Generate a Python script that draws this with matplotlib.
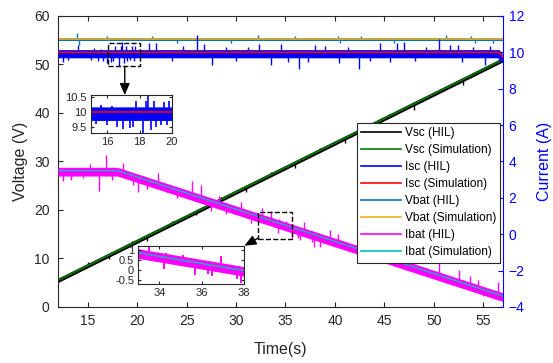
import matplotlib.pyplot as plt
from matplotlib.lines import Line2D
from matplotlib.patches import Rectangle
import numpy as np

plt.rcParams['font.family'] = ['Liberation Sans', 'DejaVu Sans']

# simulation traces (breakpoints)
t_vsc = [12, 57]
vsc_sim = [5.5, 51.0]
t_vbat = [12, 57]
vbat_sim = [55.2, 55.2]
t_isc = [12, 56.6, 57]
isc_sim = [10.0, 10.0, 9.7]
t_ibat = [12, 18, 57]
ibat_sim = [3.5, 3.5, -3.4]

# HIL noise band (above, below the simulation trace)
vsc_band = (0.45, 0.45)
vbat_band = (0.35, 0.45)
isc_band = (0.15, 0.3)
ibat_band = (0.18, 0.3)

# HIL spikes: time and peak value
vsc_spk_t = [15.0, 17.2, 19.5, 21.0, 23.5, 26.0, 28.5, 31.0, 33.5, 36.0, 38.5, 41.0, 45.5, 48.0, 50.5, 53.0, 55.5]
vsc_spk_v = [9.3, 9.9, 13.7, 13.7, 17.8, 18.9, 22.7, 23.8, 27.8, 28.7, 32.8, 33.8, 39.8, 40.7, 44.8, 45.7, 49.7]
vbat_spk_t = [13.9, 14.1, 17.0, 21.5, 24.0, 29.5, 32.2, 36.0, 40.3, 40.5, 42.6, 46.0, 51.2, 53.8, 54.2, 56.0]
vbat_spk_v = [56.4, 54.0, 55.9, 55.9, 54.5, 54.4, 56.1, 55.9, 55.9, 54.4, 55.9, 54.5, 56.0, 55.9, 54.4, 54.5]
isc_spk_t = [12.5, 13.0, 14.0, 15.3, 15.6, 16.0, 16.3, 16.6, 17.0, 17.4, 17.6, 17.8, 18.2, 18.4, 18.5, 18.7,
             18.9, 19.0, 19.3, 19.5, 19.7, 19.8, 21.2, 21.9, 23.5, 24.6, 26.1, 26.8, 27.6, 29.0, 30.0, 31.2,
             32.3, 33.5, 34.6, 35.3, 36.4, 37.3, 38.0, 39.0, 40.4, 41.3, 42.4, 43.5, 44.6, 45.6, 46.3, 47.0,
             48.1, 49.2, 50.5, 51.6, 52.4, 52.9, 54.0, 55.2, 55.7, 56.6]
isc_spk_v = [9.46, 9.57, 10.4, 9.6, 10.22, 9.55, 10.2, 9.5, 9.44, 9.45, 9.5, 10.36, 9.23, 10.35, 10.56, 9.4,
             10.36, 9.5, 9.56, 10.33, 9.55, 10.35, 10.5, 10.5, 9.5, 10.35, 10.95, 10.45, 9.3, 10.3, 9.55, 10.3,
             10.45, 9.3, 10.45, 9.45, 9.1, 9.48, 10.4, 10.35, 9.39, 10.3, 9.11, 9.5, 10.49, 9.48, 10.49, 10.58,
             9.5, 10.3, 10.76, 10.4, 10.4, 9.48, 10.3, 9.3, 10.35, 9.5]
ibat_spk_t = [12.5, 13.3, 14.5, 15.2, 16.1, 16.9, 17.5, 18.6, 19.6, 20.1, 21.0, 22.1, 23.0, 24.0, 25.5,
              26.5, 27.5, 28.3, 29.0, 30.5, 31.5, 32.6, 33.5, 34.2, 34.3, 35.1, 35.7, 36.3, 36.5, 36.9,
              37.4, 37.65, 37.85, 38.5, 39.5, 40.3, 41.5, 43.0, 44.5, 45.5, 46.5, 47.2, 48.0, 49.3, 50.5,
              51.5, 52.5, 53.7, 54.5, 55.0, 56.5]
ibat_spk_v = [2.9, 3.0, 3.1, 3.85, 2.35, 4.35, 3.0, 3.9, 2.7, 2.3, 2.5, 3.35, 2.3, 2.0, 2.9,
              2.7, 1.3, 2.1, 1.1, 1.75, 0.6, 1.45, 1.3, 0.05, 0.85, 0.75, -0.25, -0.2, -0.3, 0.67,
              -0.15, -0.45, -0.68, -0.7, 0.25, 0.0, -0.9, -0.3, -1.6, -0.9, -1.5, -1.2, -1.1, -1.85, -1.3,
              -2.4, -1.95, -2.3, -2.5, -3.4, -2.6]

c_vsc_hil, c_vsc_sim = 'black', '#008000'
c_isc_hil, c_isc_sim = '#0000FF', '#FF0000'
c_vbat_hil, c_vbat_sim = '#0072BD', '#EDB120'
c_ibat_hil, c_ibat_sim = '#FF00FF', '#00C0C0'
dark = '#262626'


def hil(axis, t, base, band, spk_t, spk_v, color, lw=1.0):
    b = np.asarray(base, dtype=float)
    axis.fill_between(t, b + band[0], b - band[1], color=color, lw=0)
    axis.vlines(spk_t, np.interp(spk_t, t, base), spk_v, color=color, lw=lw)


fig = plt.figure(figsize=(5.53, 3.63), dpi=100)
ax = fig.add_axes([0.1049, 0.1543, 0.8047, 0.8017])
ax2 = ax.twinx()

hil(ax, t_vsc, vsc_sim, vsc_band, vsc_spk_t, vsc_spk_v, c_vsc_hil)
ax.plot(t_vsc, vsc_sim, color=c_vsc_sim, lw=1.2)
hil(ax, t_vbat, vbat_sim, vbat_band, vbat_spk_t, vbat_spk_v, c_vbat_hil)
ax.plot(t_vbat, vbat_sim, color=c_vbat_sim, lw=1.2)

hil(ax2, t_isc, isc_sim, isc_band, isc_spk_t, isc_spk_v, c_isc_hil)
ax2.plot(t_isc, isc_sim, color=c_isc_sim, lw=1.2)
hil(ax2, t_ibat, ibat_sim, ibat_band, ibat_spk_t, ibat_spk_v, c_ibat_hil)
ax2.plot(t_ibat, ibat_sim, color=c_ibat_sim, lw=0.9)

ax.set_xlim(12, 57)
ax.set_ylim(0, 60)
ax2.set_ylim(-4, 12)
ax.set_xticks(range(15, 56, 5))
ax.set_yticks(range(0, 61, 10))
ax2.set_yticks(range(-4, 13, 2))

ax.tick_params(axis='both', direction='in', length=3.5, labelsize=10, colors=dark, top=True)
ax.tick_params(axis='x', pad=5)
ax.tick_params(axis='y', pad=6)
ax2.tick_params(axis='y', direction='in', length=3.5, labelsize=10, colors='#0000FF', pad=4)
for s in ['left', 'top', 'bottom']:
    ax.spines[s].set_color(dark)
ax.spines['right'].set_visible(False)
ax2.spines['right'].set_color('#0000FF')
for s in ['left', 'top', 'bottom']:
    ax2.spines[s].set_visible(False)

ax.set_xlabel('Time(s)', fontsize=11.5, color=dark, labelpad=10)
ax.set_ylabel('Voltage (V)', fontsize=11.5, color=dark, labelpad=4)
ax2.set_ylabel('Current (A)', fontsize=11.5, color='#0000FF', rotation=90, labelpad=9)

# zoom boxes and arrows
ax2.add_patch(Rectangle((17.1, 9.24), 3.23, 1.27, fill=False, ls='--', lw=1, ec='black', zorder=5))
ax2.add_patch(Rectangle((32.2, -0.26), 3.5, 1.48, fill=False, ls='--', lw=1, ec='black', zorder=5))
arrow = dict(arrowstyle='-|>,head_length=0.7,head_width=0.3', color='black', lw=1, shrinkA=0, shrinkB=0)
ax2.annotate('', xy=(18.75, 7.65), xytext=(18.75, 9.24), arrowprops=arrow, zorder=6)
ax2.annotate('', xy=(30.85, -0.63), xytext=(32.26, -0.21), arrowprops=arrow, zorder=6)

handles = [Line2D([], [], color=c, lw=1.2) for c in
           [c_vsc_hil, c_vsc_sim, c_isc_hil, c_isc_sim, c_vbat_hil, c_vbat_sim, c_ibat_hil, c_ibat_sim]]
labels = ['Vsc (HIL)', 'Vsc (Simulation)', 'Isc (HIL)', 'Isc (Simulation)',
          'Vbat (HIL)', 'Vbat (Simulation)', 'Ibat (HIL)', 'Ibat (Simulation)']
leg = ax2.legend(handles, labels, loc='upper left', bbox_to_anchor=(0.672, 0.632), borderaxespad=0,
                 fontsize=8.6, fancybox=False, framealpha=1, edgecolor=dark, labelspacing=0.42,
                 handlelength=3.3, handletextpad=0.35, borderpad=0.35)
leg.get_frame().set_linewidth(0.8)
leg.set_zorder(10)

# inset 1: Isc
ins1 = fig.add_axes([0.1646, 0.6336, 0.1465, 0.1047])
hil(ins1, t_isc, isc_sim, isc_band, isc_spk_t, isc_spk_v, c_isc_hil, lw=1.2)
ins1.plot(t_isc, isc_sim, color=c_isc_sim, lw=1.2)
ins1.set_xlim(15, 20)
ins1.set_ylim(9.3, 10.56)
ins1.set_xticks([16, 18, 20])
ins1.set_yticks([9.5, 10, 10.5])
ins1.set_yticklabels(['9.5', '10', '10.5'])

# inset 2: Ibat
ins2 = fig.add_axes([0.2501, 0.2168, 0.1911, 0.1063])
hil(ins2, t_ibat, ibat_sim, ibat_band, ibat_spk_t, ibat_spk_v, c_ibat_hil, lw=1.4)
ins2.plot(t_ibat, ibat_sim, color=c_ibat_sim, lw=1.0)
ins2.set_xlim(33, 38)
ins2.set_ylim(-0.72, 1.2)
ins2.set_xticks([34, 36, 38])
ins2.set_yticks([-0.5, 0, 0.5, 1])
ins2.set_yticklabels(['-0.5', '0', '0.5', '1'])

for a in (ins1, ins2):
    a.tick_params(direction='in', length=2.5, labelsize=8, colors=dark, top=True, right=True, pad=3)
    for s in a.spines.values():
        s.set_color(dark)

fig.savefig('out.png', dpi=100)
